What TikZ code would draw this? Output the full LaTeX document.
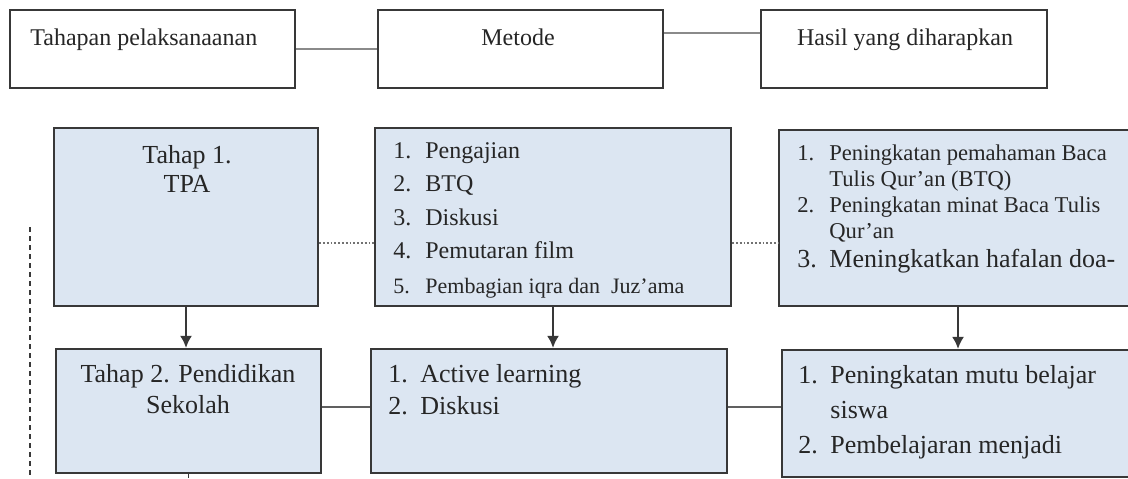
\documentclass[tikz,border=0pt]{standalone}
\usepackage{fontspec}
\setmainfont{Liberation Serif}
\usetikzlibrary{arrows.meta,positioning}
\definecolor{boxfill}{HTML}{DCE6F2}
\definecolor{boxline}{HTML}{383838}
\definecolor{linkgray}{HTML}{8A8A8A}
\newcommand{\lnum}[1]{\makebox[16pt][l]{#1.}}

\begin{document}
\begin{tikzpicture}[x=0.5pt,y=-0.5pt,>={Latex[length=6pt,width=6pt]},
	head/.style={draw=boxline,line width=1.1pt,fill=white,minimum height=39pt,inner sep=0pt},
	stage/.style={draw=boxline,line width=1.1pt,fill=boxfill,inner sep=0pt},
	txt/.style={inner sep=0pt,text=black!85,font=\fontsize{13}{15.5}\selectfont}]
		\clip (0,0) rectangle (1128,478);
		% header row
		\node[head,minimum width=142.5pt] (tahapan) at (152.5,49) {};
		\node[head,minimum width=142.5pt] (metode) at (520.5,49) {};
		\node[head,minimum width=143pt] (hasil) at (904,49) {};
		\node[txt,font=\fontsize{12}{14}\selectfont,anchor=north west] (tahapanT) at (30,28) {Tahapan pelaksanaanan};
		\node[txt,font=\fontsize{12}{14}\selectfont,anchor=north] (metodeT) at (518,28) {Metode};
		\node[txt,font=\fontsize{12}{14}\selectfont,anchor=north] (hasilT) at (905,28) {Hasil yang diharapkan};
		
		% tahap 1
		\node[stage,minimum width=132pt,minimum height=89pt] (tpa) at (186,217) {};
		\node[stage,minimum width=178pt,minimum height=89pt] (metode1) at (553,217) {};
		\node[stage,minimum width=179pt,minimum height=88pt] (hasil1) at (958,218) {};
		\node[txt,align=center,font=\fontsize{13}{14.5}\selectfont,anchor=north] (tpaT) at (187,145) {Tahap 1.\\TPA};
		\node[txt,align=left,font=\fontsize{12}{16.75}\selectfont,anchor=north west] (metode1T) at (393,142)
			{\lnum{1}Pengajian\\\lnum{2}BTQ\\\lnum{3}Diskusi\\\lnum{4}Pemutaran film\\[0.8pt]
			{\fontsize{11}{16.75}\selectfont\lnum{5}Pembagian iqra dan \ Juz’ama}};
		\node[txt,align=left,font=\fontsize{11.3}{13}\selectfont,anchor=north west] (hasil1T) at (797,144)
			{\lnum{1}Peningkatan pemahaman Baca\\\hspace*{16pt}Tulis Qur’an (BTQ)\\
			\lnum{2}Peningkatan minat Baca Tulis\\\hspace*{16pt}Qur’an\\[1.5pt]
			{\fontsize{13}{13}\selectfont\lnum{3}Meningkatkan hafalan doa-}};
		
		% tahap 2
		\node[stage,minimum width=132.5pt,minimum height=62pt] (sekolah) at (188.5,411) {};
		\node[stage,minimum width=178pt,minimum height=62pt] (metode2) at (549,411) {};
		\node[stage,minimum width=179pt,minimum height=63.5pt] (hasil2) at (961,413.5) {};
		\node[txt,align=center,anchor=north] (sekolahT) at (188,364) {Tahap 2. Pendidikan\\Sekolah};
		\node[txt,align=left,font=\fontsize{13}{16}\selectfont,anchor=north west] (metode2T) at (388,364)
			{\lnum{1}Active learning\\\lnum{2}Diskusi};
		\node[txt,align=left,font=\fontsize{13}{17.5}\selectfont,anchor=north west] (hasil2T) at (798,365)
			{\lnum{1}Peningkatan mutu belajar\\\hspace*{16pt}siswa\\\lnum{2}Pembelajaran menjadi};
		
		\coordinate (dashtop) at (30,227);
		\coordinate (dashbot) at (30,478);
		\coordinate (stubend) at (185,478);
		
		\draw[linkgray,line width=0.8pt] (tahapan) -- (metode);
		\draw[linkgray,line width=0.8pt] ([yshift=8pt]metode.east) -- ([yshift=8pt]metode.east -| hasil.west);
		\draw[linkgray!120,line width=0.9pt,densely dotted] ([yshift=-13pt]tpa.east) -- ([yshift=-13pt]tpa.east -| metode1.west);
		\draw[linkgray!120,line width=0.9pt,densely dotted] ([yshift=-13pt]metode1.east) -- ([yshift=-13pt]metode1.east -| hasil1.west);
		\draw[boxline!80,line width=0.8pt] ([yshift=2pt]sekolah.east) -- ([yshift=2pt]sekolah.east -| metode2.west);
		\draw[boxline!80,line width=0.8pt] ([yshift=2pt]metode2.east) -- ([yshift=2pt]metode2.east -| hasil2.west);
		\draw[boxline,line width=1pt,->] (tpa.south) -- (tpa.south |- sekolah.north);
		\draw[boxline,line width=1pt,->] (metode1.south) -- (metode1.south |- metode2.north);
		\draw[boxline,line width=1pt,->] (hasil1.south) -- (hasil1.south |- hasil2.north);
		\draw[boxline,line width=0.9pt] (sekolah.south) -- (sekolah.south |- stubend);
		\draw[boxline,line width=0.9pt,dash pattern=on 2.5pt off 2pt] (dashtop) -- (dashbot);
	\end{tikzpicture}
\end{document}
